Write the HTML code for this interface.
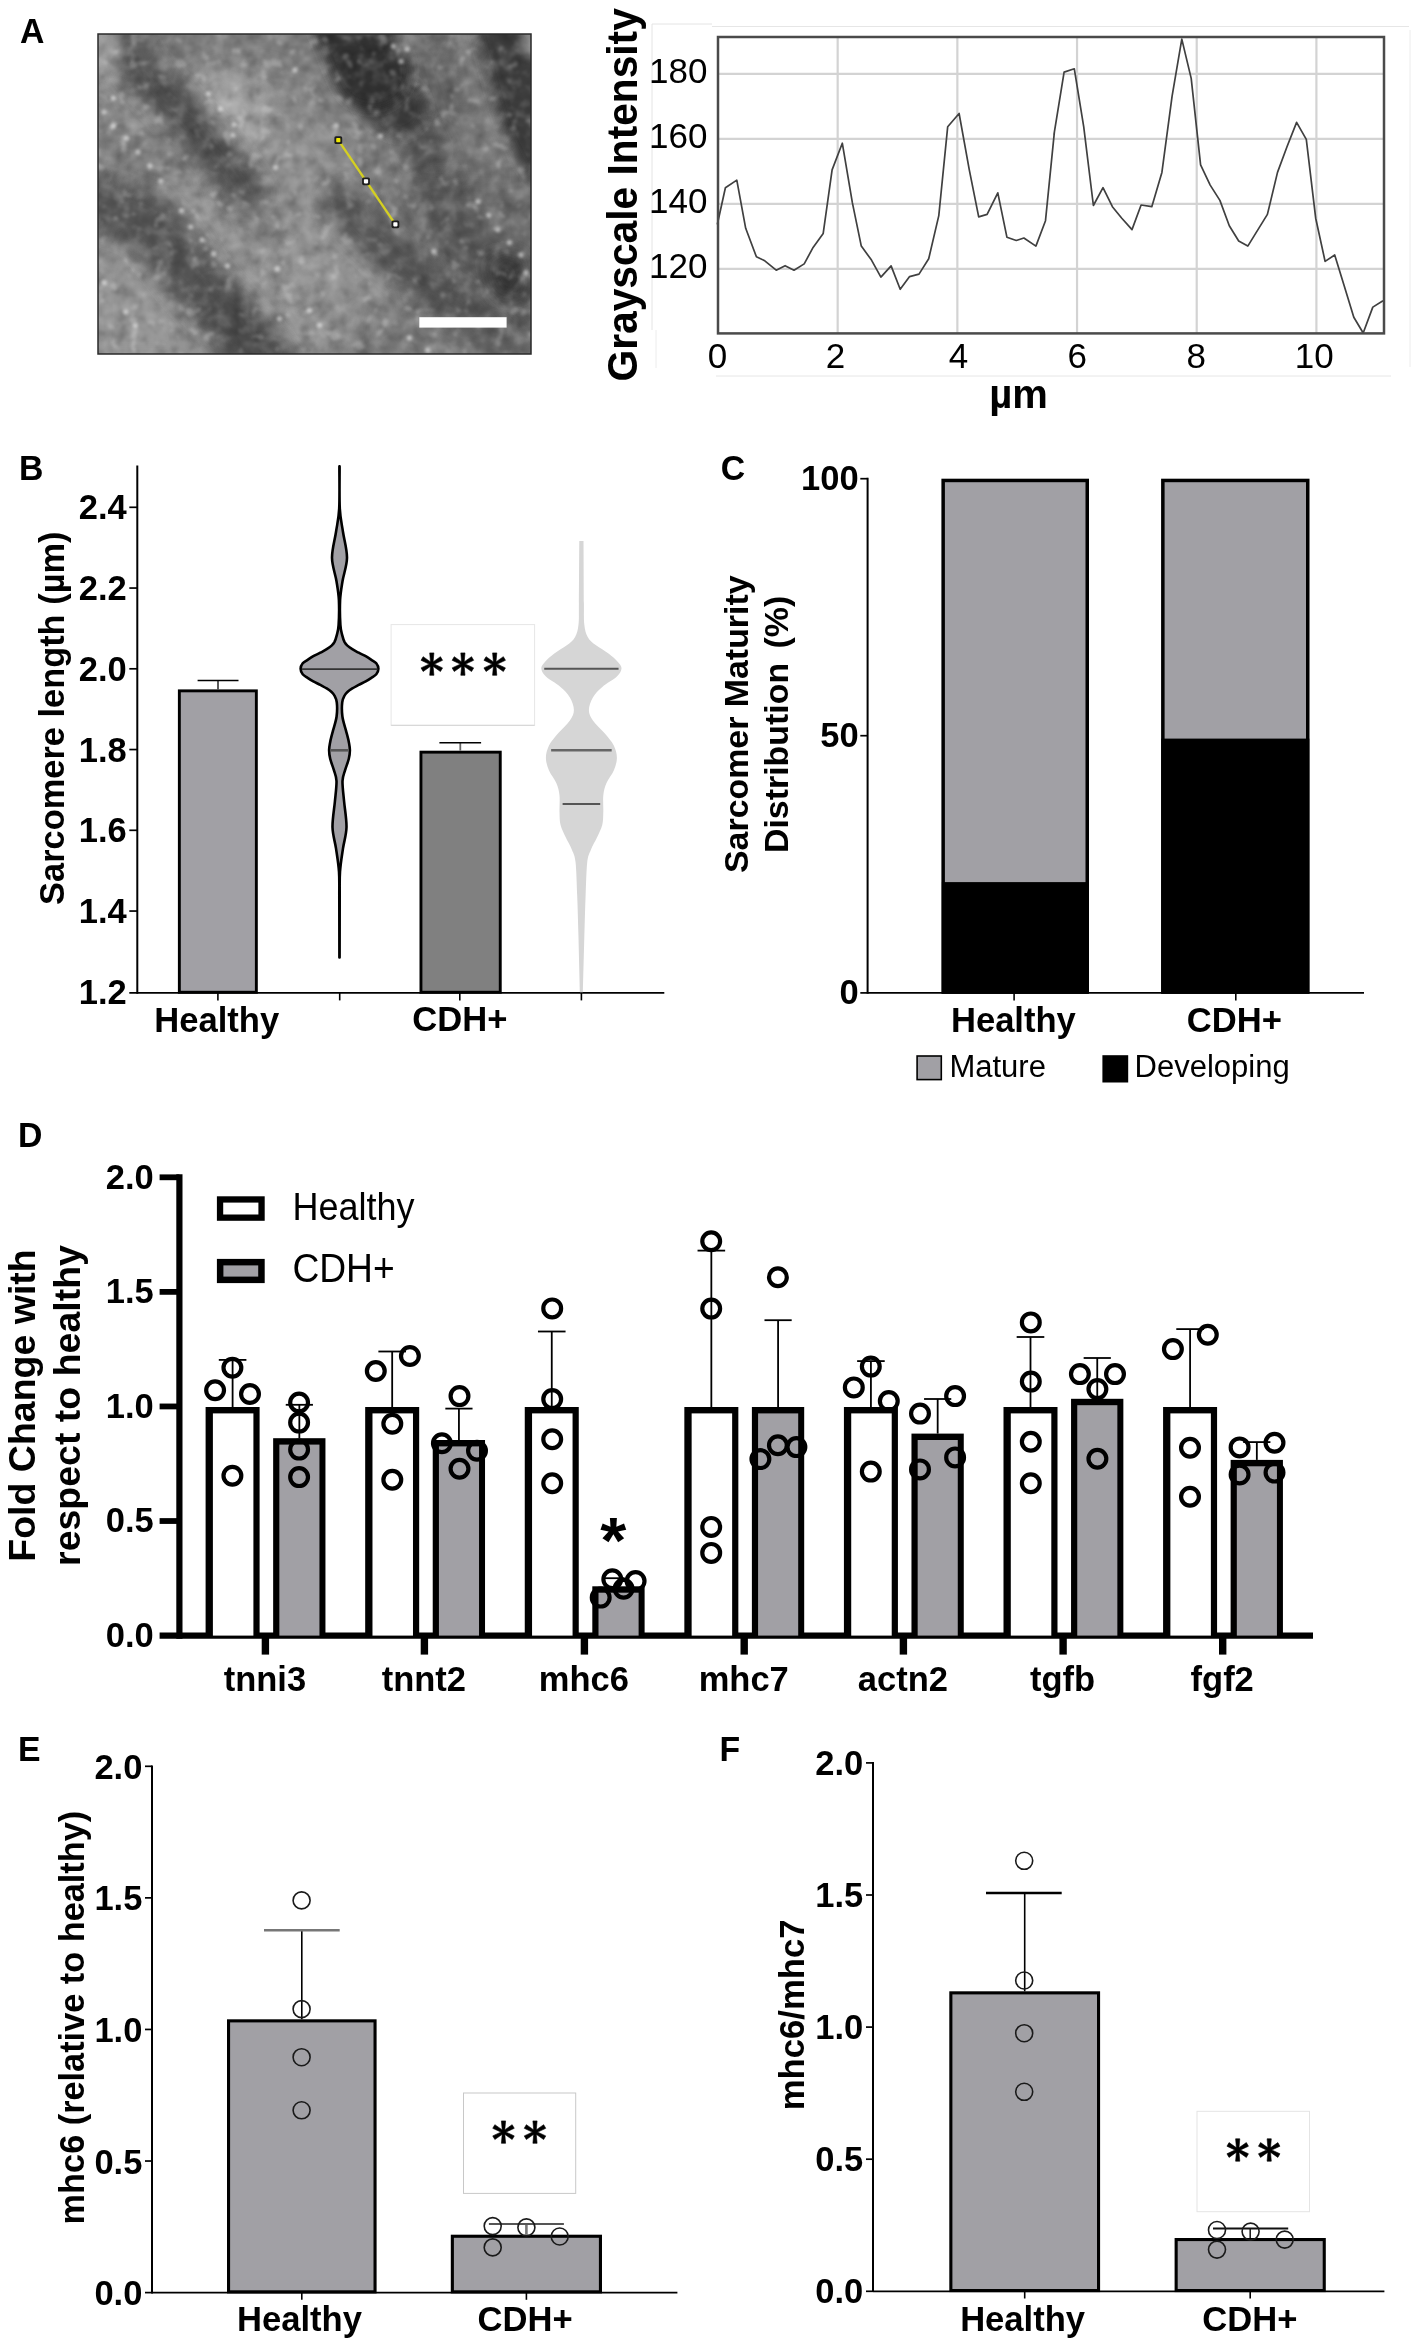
<!DOCTYPE html>
<html><head><meta charset="utf-8"><title>Figure</title>
<style>
html,body{margin:0;padding:0;background:#fff;}
body{width:1417px;height:2347px;overflow:hidden;font-family:"Liberation Sans",sans-serif;}
svg{display:block;will-change:transform;}
svg text{font-family:"Liberation Sans",sans-serif;}
</style></head><body>
<svg width="1417" height="2347" viewBox="0 0 1417 2347">
<rect x="0" y="0" width="1417" height="2347" fill="#fff"/>
<text x="20.0" y="42.8" font-size="33.8" font-weight="bold" text-anchor="start" fill="#000" transform="translate(20.0 42.8) scale(1 1.04) translate(-20.0 -42.8)" >A</text>
<text x="18.9" y="479.6" font-size="33.8" font-weight="bold" text-anchor="start" fill="#000" transform="translate(18.9 479.6) scale(1 1.04) translate(-18.9 -479.6)" >B</text>
<text x="720.7" y="480.3" font-size="33.8" font-weight="bold" text-anchor="start" fill="#000" transform="translate(720.7 480.3) scale(1 1.04) translate(-720.7 -480.3)" >C</text>
<text x="18.1" y="1146.9" font-size="33.8" font-weight="bold" text-anchor="start" fill="#000" transform="translate(18.1 1146.9) scale(1 1.04) translate(-18.1 -1146.9)" >D</text>
<text x="18.1" y="1761.4" font-size="33.8" font-weight="bold" text-anchor="start" fill="#000" transform="translate(18.1 1761.4) scale(1 1.04) translate(-18.1 -1761.4)" >E</text>
<text x="719.5" y="1761.4" font-size="33.8" font-weight="bold" text-anchor="start" fill="#000" transform="translate(719.5 1761.4) scale(1 1.04) translate(-719.5 -1761.4)" >F</text>
<defs>
<clipPath id="imgclip"><rect x="98" y="34" width="433" height="320"/></clipPath>
<filter id="bl1" filterUnits="userSpaceOnUse" x="18" y="-46" width="593" height="480"><feGaussianBlur stdDeviation="1.6"/></filter>
<filter id="bl9" filterUnits="userSpaceOnUse" x="18" y="-46" width="593" height="480"><feGaussianBlur stdDeviation="9"/></filter>
<filter id="bl6" filterUnits="userSpaceOnUse" x="18" y="-46" width="593" height="480"><feGaussianBlur stdDeviation="6"/></filter>
<filter id="bl14" filterUnits="userSpaceOnUse" x="18" y="-46" width="593" height="480"><feGaussianBlur stdDeviation="14"/></filter>
<filter id="nzW" filterUnits="userSpaceOnUse" x="18" y="-46" width="593" height="480" color-interpolation-filters="sRGB">
<feTurbulence type="fractalNoise" baseFrequency="0.07" numOctaves="3" seed="11" result="t"/>
<feColorMatrix in="t" type="matrix" values="0 0 0 0 1  0 0 0 0 1  0 0 0 0 1  2.6 0 0 0 -1.25" result="g"/>
<feGaussianBlur in="g" stdDeviation="1.2"/>
</filter>
<filter id="nzB" filterUnits="userSpaceOnUse" x="18" y="-46" width="593" height="480" color-interpolation-filters="sRGB">
<feTurbulence type="fractalNoise" baseFrequency="0.07" numOctaves="3" seed="11" result="t"/>
<feColorMatrix in="t" type="matrix" values="0 0 0 0 0  0 0 0 0 0  0 0 0 0 0  -2.6 0 0 0 1.2" result="g"/>
<feGaussianBlur in="g" stdDeviation="1.2"/>
</filter>
<filter id="nzS" filterUnits="userSpaceOnUse" x="18" y="-46" width="593" height="480" color-interpolation-filters="sRGB">
<feTurbulence type="fractalNoise" baseFrequency="0.085" numOctaves="2" seed="5" result="t2"/>
<feColorMatrix in="t2" type="matrix" values="0 0 0 0 1  0 0 0 0 1  0 0 0 0 1  0 10 0 0 -6.3" result="sp"/>
<feGaussianBlur in="sp" stdDeviation="1.7"/>
</filter>
</defs>
<g clip-path="url(#imgclip)"><g>
<rect x="18" y="-46" width="593" height="480" fill="#7b7b7b" stroke="none" stroke-width="0" />
<path d="M104.1,21.8 L125.5,95.1 L168.3,165.4 L226.3,241.8 L293.6,327.4 L311.9,370.1" fill="none" stroke="#969696" stroke-width="45.8" stroke-linecap="round" stroke-linejoin="round" filter="url(#bl14)" opacity="0.75"/>
<polygon points="198.8,79.8 269.1,70.7 342.5,134.8 360.8,217.3 330.2,296.8 269.1,278.5 229.4,205.1" fill="#929292" filter="url(#bl14)" opacity="0.75"/>
<polygon points="214.1,89.0 263.0,89.0 269.1,144.0 226.3,150.1" fill="#9c9c9c" filter="url(#bl9)" opacity="0.55"/>
<polygon points="281.3,241.8 373.0,229.6 391.4,309.0 311.9,339.6" fill="#9a9a9a" filter="url(#bl14)" opacity="0.6"/>
<path d="M421.9,46.2 L443.3,113.4 L470.8,177.6" fill="none" stroke="#585858" stroke-width="45.8" stroke-linecap="round" stroke-linejoin="round" filter="url(#bl14)" opacity="0.75"/>
<polygon points="85.8,247.9 153.0,266.2 226.3,370.1 85.8,370.1" fill="#9a9a9a" filter="url(#bl14)" opacity="0.8"/>
<path d="M473.9,192.9 L504.4,244.8 L531.9,278.5" fill="none" stroke="#8e8e8e" stroke-width="18.3" stroke-linecap="round" stroke-linejoin="round" filter="url(#bl9)" opacity="0.5"/>
<polygon points="192.0,66.0 250.0,72.0 262.0,140.0 205.0,132.0" fill="#acacac" filter="url(#bl9)" opacity="0.6"/>
<path d="M128.0,48.0 L138.0,68.0 L156.0,87.0 L188.0,121.0 L220.0,156.0 L246.0,192.0" fill="none" stroke="#484848" stroke-width="38" stroke-linecap="round" stroke-linejoin="round" filter="url(#bl9)" opacity="0.9"/>
<path d="M246.0,192.0 L270.0,226.0" fill="none" stroke="#6c6c6c" stroke-width="24" stroke-linecap="round" stroke-linejoin="round" filter="url(#bl9)" opacity="0.5"/>
<path d="M146.0,16.0 L140.0,66.0" fill="none" stroke="#606060" stroke-width="34" stroke-linecap="round" stroke-linejoin="round" filter="url(#bl9)" opacity="0.6"/>
<polygon points="88.0,24.0 124.0,24.0 119.0,74.0 88.0,82.0" fill="#a0a0a0" filter="url(#bl6)" opacity="0.75"/>
<path d="M60.0,194.0 L98.0,203.0 L145.5,218.0 L169.0,248.0 L190.5,275.0 L222.0,312.0 L257.0,354.0 L275.0,376.0" fill="none" stroke="#525252" stroke-width="52" stroke-linecap="round" stroke-linejoin="round" filter="url(#bl9)" opacity="0.95"/>
<polygon points="122.0,136.0 200.0,136.0 204.0,180.0 125.0,178.0" fill="#5a5a5a" filter="url(#bl9)" opacity="0.3"/>
<path d="M222.0,305.0 L245.0,335.0 L262.0,362.0" fill="none" stroke="#444444" stroke-width="44" stroke-linecap="round" stroke-linejoin="round" filter="url(#bl9)" opacity="0.55"/>
<path d="M425.0,150.0 L436.0,190.0 L470.0,248.0 L505.0,279.0 L535.0,315.0" fill="none" stroke="#525252" stroke-width="40" stroke-linecap="round" stroke-linejoin="round" filter="url(#bl9)" opacity="0.8"/>
<path d="M398.0,108.0 L412.0,125.0 L425.0,150.0" fill="none" stroke="#585858" stroke-width="36" stroke-linecap="round" stroke-linejoin="round" filter="url(#bl6)" opacity="0.85"/>
<path d="M372.0,70.0 L383.6,95.0 L398.0,108.0" fill="none" stroke="#3a3a3a" stroke-width="56" stroke-linecap="round" stroke-linejoin="round" filter="url(#bl6)" opacity="0.95"/>
<path d="M338.0,-10.0 L357.0,34.0 L372.0,70.0" fill="none" stroke="#323232" stroke-width="78" stroke-linecap="round" stroke-linejoin="round" filter="url(#bl6)" opacity="0.97"/>
<polygon points="470.0,10.0 570.0,10.0 570.0,200.0 531.0,181.0 519.0,162.0 503.0,129.0 491.0,87.0" fill="#3a3a3a" filter="url(#bl6)" opacity="0.97"/>
<polygon points="390.0,30.0 428.0,30.0 426.0,58.0 396.0,60.0" fill="#909090" filter="url(#bl6)" opacity="0.5"/>
<polygon points="448.0,118.0 488.0,122.0 492.0,172.0 456.0,168.0" fill="#909090" filter="url(#bl9)" opacity="0.45"/>
<polygon points="521.0,20.0 545.0,20.0 545.0,58.0 527.0,56.0" fill="#a8a8a8" filter="url(#bl6)" opacity="0.9"/>
<polygon points="392.0,188.0 545.0,188.0 545.0,325.0 430.0,325.0" fill="#505050" filter="url(#bl14)" opacity="0.42"/>
<polygon points="486.0,258.0 520.0,252.0 528.0,294.0 496.0,298.0" fill="#343434" filter="url(#bl9)" opacity="0.95"/>
<path d="M340.0,200.0 L353.0,217.0 L391.0,255.0 L429.0,285.5 L452.0,300.7 L483.0,331.0 L506.0,356.0" fill="none" stroke="#4c4c4c" stroke-width="36" stroke-linecap="round" stroke-linejoin="round" filter="url(#bl9)" opacity="0.8"/>
<path d="M403.6,327.4 L538.0,357.9" fill="none" stroke="#707070" stroke-width="33.6" stroke-linecap="round" stroke-linejoin="round" filter="url(#bl14)" opacity="0.6"/>
</g>
<rect x="98" y="34" width="433" height="320" filter="url(#nzW)" opacity="0.2"/>
<rect x="98" y="34" width="433" height="320" filter="url(#nzB)" opacity="0.22"/>
<rect x="98" y="34" width="433" height="320" filter="url(#nzS)" opacity="0.22"/>
<g fill="#fff" opacity="0.5" filter="url(#bl1)"><circle cx="478.1" cy="201.6" r="2.7"/><circle cx="488.8" cy="215.3" r="2.7"/><circle cx="497.9" cy="229.8" r="2.7"/><circle cx="509.4" cy="242.8" r="2.7"/><circle cx="520.8" cy="255" r="2.7"/><circle cx="526.1" cy="272.5" r="2.7"/><circle cx="409.5" cy="338" r="2.7"/><circle cx="427.8" cy="350.2" r="2.7"/><circle cx="319.6" cy="325.1" r="2.7"/><circle cx="433.9" cy="251.2" r="2.7"/><circle cx="393.5" cy="46.2" r="2.7"/><circle cx="407.2" cy="49.2" r="2.7"/><circle cx="401.1" cy="61.4" r="2.7"/><circle cx="380.5" cy="136.1" r="2.7"/><circle cx="336.3" cy="125.5" r="2.7"/><circle cx="181.5" cy="210.8" r="2.7"/><circle cx="190.6" cy="226.9" r="2.7"/><circle cx="202.1" cy="239.9" r="2.7"/><circle cx="213.6" cy="253.7" r="2.7"/><circle cx="227.4" cy="266" r="2.7"/><circle cx="277.2" cy="269" r="2.7"/><circle cx="279.5" cy="318.8" r="2.7"/><circle cx="309.3" cy="310.4" r="2.7"/><circle cx="125.6" cy="311.9" r="2.7"/><circle cx="135.5" cy="325.7" r="2.7"/><circle cx="104.1" cy="282.8" r="2.7"/><circle cx="113.3" cy="98.3" r="2.7"/><circle cx="104.1" cy="112.1" r="2.7"/><circle cx="113.3" cy="125.9" r="2.7"/><circle cx="126.3" cy="138.1" r="2.7"/><circle cx="137.8" cy="151.9" r="2.7"/><circle cx="150.1" cy="165.7" r="2.7"/><circle cx="160.8" cy="181" r="2.7"/><circle cx="208.3" cy="93.7" r="2.7"/><circle cx="220.5" cy="109" r="2.7"/><circle cx="234.3" cy="124.4" r="2.7"/><circle cx="232.8" cy="135.1" r="2.7"/><circle cx="275.6" cy="167.2" r="2.7"/><circle cx="294.8" cy="70" r="2.7"/></g>
</g>
<rect x="98" y="34" width="433" height="320" fill="none" stroke="#2a2a2a" stroke-width="1.5" />
<rect x="419.3" y="317.2" width="87.3" height="10.4" fill="#fff" stroke="none" stroke-width="0" />
<line x1="338.3" y1="140.1" x2="395.4" y2="224.3" stroke="#d4cf22" stroke-width="2.4" />
<rect x="334.40000000000003" y="136.2" width="7.8" height="7.8" fill="#1e1e1e" stroke="none" stroke-width="0" rx="1.6"/>
<rect x="336.2" y="138.0" width="4.2" height="4.2" fill="#f0e800" stroke="none" stroke-width="0" rx="0.8"/>
<rect x="362.1" y="177.4" width="7.8" height="7.8" fill="#1e1e1e" stroke="none" stroke-width="0" rx="1.6"/>
<rect x="363.9" y="179.20000000000002" width="4.2" height="4.2" fill="#ffffff" stroke="none" stroke-width="0" rx="0.8"/>
<rect x="391.5" y="220.4" width="7.8" height="7.8" fill="#1e1e1e" stroke="none" stroke-width="0" rx="1.6"/>
<rect x="393.29999999999995" y="222.20000000000002" width="4.2" height="4.2" fill="#ffffff" stroke="none" stroke-width="0" rx="0.8"/>
<line x1="652" y1="24" x2="652" y2="330" stroke="#e4e4e4" stroke-width="1" />
<line x1="652" y1="24" x2="712" y2="24" stroke="#e4e4e4" stroke-width="1" />
<line x1="712" y1="26.5" x2="1409" y2="26.5" stroke="#e6e6e6" stroke-width="1" />
<line x1="656" y1="330" x2="656" y2="368" stroke="#ececec" stroke-width="1" />
<line x1="716" y1="376" x2="1391" y2="376" stroke="#e6e6e6" stroke-width="1" />
<line x1="1410" y1="30" x2="1410" y2="367" stroke="#ececec" stroke-width="1" />
<line x1="837.6800000000001" y1="37" x2="837.6800000000001" y2="333.4" stroke="#d3d3d3" stroke-width="2.2" />
<line x1="957.36" y1="37" x2="957.36" y2="333.4" stroke="#d3d3d3" stroke-width="2.2" />
<line x1="1077.04" y1="37" x2="1077.04" y2="333.4" stroke="#d3d3d3" stroke-width="2.2" />
<line x1="1196.72" y1="37" x2="1196.72" y2="333.4" stroke="#d3d3d3" stroke-width="2.2" />
<line x1="1316.4" y1="37" x2="1316.4" y2="333.4" stroke="#d3d3d3" stroke-width="2.2" />
<line x1="718.0" y1="268.8" x2="1384" y2="268.8" stroke="#d3d3d3" stroke-width="2.2" />
<line x1="718.0" y1="203.83333333333334" x2="1384" y2="203.83333333333334" stroke="#d3d3d3" stroke-width="2.2" />
<line x1="718.0" y1="138.86666666666667" x2="1384" y2="138.86666666666667" stroke="#d3d3d3" stroke-width="2.2" />
<line x1="718.0" y1="73.9" x2="1384" y2="73.9" stroke="#d3d3d3" stroke-width="2.2" />
<polyline fill="none" stroke="#404040" stroke-width="1.7" stroke-linejoin="round" points="717.3,224.5 725.4,187.7 736.8,180.1 745.7,228.3 756.4,256.8 764.8,260.8 776.2,270.2 785.1,265.7 794.0,270.2 804.2,263.9 813.1,247.4 823.2,233.4 832.1,169.9 842.3,143.2 852.4,202.9 861.3,246.1 871.5,260.1 880.9,277.1 891.1,265.9 900.2,289.3 909.6,276.6 919.0,274.1 928.7,258.8 938.8,215.6 947.7,126.7 959.1,113.5 969.3,169.9 978.7,216.9 987.1,214.4 997.8,192.8 1006.9,237.2 1016.3,240.5 1023.9,238.0 1035.9,246.1 1045.5,220.7 1054.4,131.8 1054.0,134.3 1064.1,72.1 1074.3,68.8 1083.7,126.7 1093.4,205.5 1103.0,187.7 1112.4,206.7 1121.8,218.2 1132.0,229.6 1141.1,205.0 1151.8,206.7 1161.9,172.4 1172.1,96.2 1181.8,39.1 1191.2,78.4 1200.6,164.8 1210.2,185.1 1219.9,200.4 1229.3,225.8 1238.7,241.0 1247.8,246.1 1257.2,230.9 1267.4,214.4 1277.5,172.4 1286.9,147.0 1296.6,122.4 1306.3,139.4 1315.7,218.2 1325.1,261.4 1334.7,255.0 1344.1,285.5 1353.8,317.2 1363.2,333.0 1372.8,307.1 1383.0,300.7"/>
<rect x="718.0" y="37" width="666.0" height="296.4" fill="none" stroke="#4a4a4a" stroke-width="2.5" />
<text x="707.5" y="278.3" font-size="35" text-anchor="end" fill="#000" transform="translate(707.5 278.3) scale(1 1.0) translate(-707.5 -278.3)" >120</text>
<text x="707.5" y="213.33333333333334" font-size="35" text-anchor="end" fill="#000" transform="translate(707.5 213.33333333333334) scale(1 1.0) translate(-707.5 -213.33333333333334)" >140</text>
<text x="707.5" y="148.36666666666667" font-size="35" text-anchor="end" fill="#000" transform="translate(707.5 148.36666666666667) scale(1 1.0) translate(-707.5 -148.36666666666667)" >160</text>
<text x="707.5" y="83.4" font-size="35" text-anchor="end" fill="#000" transform="translate(707.5 83.4) scale(1 1.0) translate(-707.5 -83.4)" >180</text>
<text x="717.5" y="367.9" font-size="35" text-anchor="middle" fill="#000" transform="translate(717.5 367.9) scale(1 1.0) translate(-717.5 -367.9)" >0</text>
<text x="835.6" y="367.9" font-size="35" text-anchor="middle" fill="#000" transform="translate(835.6 367.9) scale(1 1.0) translate(-835.6 -367.9)" >2</text>
<text x="958.5" y="367.9" font-size="35" text-anchor="middle" fill="#000" transform="translate(958.5 367.9) scale(1 1.0) translate(-958.5 -367.9)" >4</text>
<text x="1077.3" y="367.9" font-size="35" text-anchor="middle" fill="#000" transform="translate(1077.3 367.9) scale(1 1.0) translate(-1077.3 -367.9)" >6</text>
<text x="1196.3" y="367.9" font-size="35" text-anchor="middle" fill="#000" transform="translate(1196.3 367.9) scale(1 1.0) translate(-1196.3 -367.9)" >8</text>
<text x="1314.2" y="367.9" font-size="35" text-anchor="middle" fill="#000" transform="translate(1314.2 367.9) scale(1 1.0) translate(-1314.2 -367.9)" >10</text>
<text x="1018.5" y="407.6" font-size="40" font-weight="bold" text-anchor="middle" fill="#000" transform="translate(1018.5 407.6) scale(1 1.0) translate(-1018.5 -407.6)" >µm</text>
<text x="636.7" y="194.8" font-size="40.7" font-weight="bold" text-anchor="middle" fill="#000" transform="rotate(-90 636.7 194.8) translate(636.7 194.8) scale(1 1.04) translate(-636.7 -194.8)" >Grayscale Intensity</text>
<line x1="137.3" y1="465.4" x2="137.3" y2="993.6999999999999" stroke="#000" stroke-width="2" />
<line x1="129.3" y1="992.9" x2="664.3" y2="992.9" stroke="#000" stroke-width="1.7" />
<line x1="129.3" y1="911.05" x2="137.3" y2="911.05" stroke="#000" stroke-width="1.7" />
<line x1="129.3" y1="830.3" x2="137.3" y2="830.3" stroke="#000" stroke-width="1.7" />
<line x1="129.3" y1="749.55" x2="137.3" y2="749.55" stroke="#000" stroke-width="1.7" />
<line x1="129.3" y1="668.8" x2="137.3" y2="668.8" stroke="#000" stroke-width="1.7" />
<line x1="129.3" y1="588.05" x2="137.3" y2="588.05" stroke="#000" stroke-width="1.7" />
<line x1="129.3" y1="507.3" x2="137.3" y2="507.3" stroke="#000" stroke-width="1.7" />
<text x="126.8" y="1003.8" font-size="34.5" font-weight="bold" text-anchor="end" fill="#000" transform="translate(126.8 1003.8) scale(1 1.04) translate(-126.8 -1003.8)" >1.2</text>
<text x="126.8" y="923.05" font-size="34.5" font-weight="bold" text-anchor="end" fill="#000" transform="translate(126.8 923.05) scale(1 1.04) translate(-126.8 -923.05)" >1.4</text>
<text x="126.8" y="842.3" font-size="34.5" font-weight="bold" text-anchor="end" fill="#000" transform="translate(126.8 842.3) scale(1 1.04) translate(-126.8 -842.3)" >1.6</text>
<text x="126.8" y="761.55" font-size="34.5" font-weight="bold" text-anchor="end" fill="#000" transform="translate(126.8 761.55) scale(1 1.04) translate(-126.8 -761.55)" >1.8</text>
<text x="126.8" y="680.8" font-size="34.5" font-weight="bold" text-anchor="end" fill="#000" transform="translate(126.8 680.8) scale(1 1.04) translate(-126.8 -680.8)" >2.0</text>
<text x="126.8" y="600.05" font-size="34.5" font-weight="bold" text-anchor="end" fill="#000" transform="translate(126.8 600.05) scale(1 1.04) translate(-126.8 -600.05)" >2.2</text>
<text x="126.8" y="519.3" font-size="34.5" font-weight="bold" text-anchor="end" fill="#000" transform="translate(126.8 519.3) scale(1 1.04) translate(-126.8 -519.3)" >2.4</text>
<text x="63.6" y="718.2" font-size="34.4" font-weight="bold" text-anchor="middle" fill="#000" transform="rotate(-90 63.6 718.2) translate(63.6 718.2) scale(1 1.0) translate(-63.6 -718.2)" >Sarcomere length (µm)</text>
<line x1="217.9" y1="992.9" x2="217.9" y2="1000.4" stroke="#000" stroke-width="1.6" />
<line x1="339.7" y1="992.9" x2="339.7" y2="1000.4" stroke="#000" stroke-width="1.6" />
<line x1="459.8" y1="992.9" x2="459.8" y2="1000.4" stroke="#000" stroke-width="1.6" />
<line x1="581.4" y1="992.9" x2="581.4" y2="1000.4" stroke="#000" stroke-width="1.6" />
<text x="216.7" y="1031.7" font-size="34.6" font-weight="bold" text-anchor="middle" fill="#000" transform="translate(216.7 1031.7) scale(1 1.0) translate(-216.7 -1031.7)" >Healthy</text>
<text x="459.8" y="1031.5" font-size="34.6" font-weight="bold" text-anchor="middle" fill="#000" transform="translate(459.8 1031.5) scale(1 1.04) translate(-459.8 -1031.5)" >CDH+</text>
<rect x="179.35" y="690.85" width="77.0" height="301.4" fill="#a1a0a5" stroke="#000" stroke-width="2.9" />
<line x1="218" y1="689.4" x2="218" y2="680.5" stroke="#333" stroke-width="1.6" />
<line x1="197.6" y1="680.5" x2="238.5" y2="680.5" stroke="#000" stroke-width="1.6" />
<rect x="420.95" y="752.1500000000001" width="79.29999999999998" height="240.09999999999988" fill="#808080" stroke="#000" stroke-width="2.9" />
<line x1="460.3" y1="750.7" x2="460.3" y2="742.7" stroke="#666" stroke-width="1.8" />
<line x1="439.4" y1="742.7" x2="481.1" y2="742.7" stroke="#000" stroke-width="1.6" />
<path d="M339.6,466.4 C339.7,473.4 339.2,497.7 339.8,508.6 C340.4,519.5 341.8,523.8 343.0,532.0 C344.2,540.2 347.1,549.6 347.0,557.8 C346.9,566.0 343.6,574.2 342.5,581.2 C341.4,588.2 340.5,592.7 340.1,600.0 C339.8,607.3 340.0,619.1 340.4,625.0 C340.8,630.9 341.5,632.2 342.2,635.1 C342.9,637.9 343.7,640.3 344.6,642.1 C345.5,643.8 346.1,644.4 347.4,645.6 C348.7,646.8 350.4,648.0 352.3,649.2 C354.2,650.4 356.5,651.5 358.7,652.7 C360.9,653.9 363.6,655.0 365.7,656.2 C367.8,657.4 369.6,658.6 371.4,659.8 C373.2,661.0 375.1,661.8 376.3,663.3 C377.5,664.8 378.4,667.0 378.4,668.8 C378.4,670.6 377.5,672.8 376.3,674.3 C375.1,675.8 373.2,676.6 371.4,677.8 C369.6,679.0 367.8,680.2 365.7,681.4 C363.6,682.6 360.9,683.7 358.7,684.9 C356.5,686.1 354.2,687.2 352.3,688.4 C350.4,689.6 348.7,690.8 347.4,692.0 C346.1,693.2 345.5,693.8 344.6,695.5 C343.7,697.2 342.6,699.0 342.2,702.5 C341.8,706.0 341.8,711.8 342.4,716.5 C343.0,721.2 344.9,726.4 346.0,730.6 C347.1,734.8 348.2,738.6 348.8,741.9 C349.4,745.2 349.9,747.5 349.9,750.3 C349.9,753.1 349.6,755.5 348.8,758.8 C348.0,762.1 346.2,766.4 345.1,770.1 C344.1,773.8 342.7,775.8 342.5,781.0 C342.3,786.2 343.4,793.8 344.1,801.5 C344.8,809.2 346.7,819.5 346.5,827.3 C346.3,835.1 344.1,841.0 343.0,848.4 C341.9,855.8 340.6,863.2 340.0,871.8 C339.4,880.4 339.8,885.7 339.7,900.0 C339.6,914.3 339.7,947.8 339.6,957.4 L339.4,957.4  C339.3,947.8 339.4,914.3 339.3,900.0 C339.2,885.7 339.6,880.4 339.0,871.8 C338.4,863.2 337.1,855.8 336.0,848.4 C334.9,841.0 332.7,835.1 332.5,827.3 C332.3,819.5 334.2,809.2 334.9,801.5 C335.6,793.8 336.7,786.2 336.5,781.0 C336.3,775.8 334.9,773.8 333.9,770.1 C332.8,766.4 331.0,762.1 330.2,758.8 C329.4,755.5 329.1,753.1 329.1,750.3 C329.1,747.5 329.6,745.2 330.2,741.9 C330.8,738.6 331.9,734.8 333.0,730.6 C334.1,726.4 336.0,721.2 336.6,716.5 C337.2,711.8 337.2,706.0 336.8,702.5 C336.4,699.0 335.3,697.2 334.4,695.5 C333.5,693.8 332.9,693.2 331.6,692.0 C330.3,690.8 328.6,689.6 326.7,688.4 C324.8,687.2 322.5,686.1 320.3,684.9 C318.1,683.7 315.4,682.6 313.3,681.4 C311.2,680.2 309.4,679.0 307.6,677.8 C305.8,676.6 303.9,675.8 302.7,674.3 C301.5,672.8 300.6,670.6 300.6,668.8 C300.6,667.0 301.5,664.8 302.7,663.3 C303.9,661.8 305.8,661.0 307.6,659.8 C309.4,658.6 311.2,657.4 313.3,656.2 C315.4,655.0 318.1,653.9 320.3,652.7 C322.5,651.5 324.8,650.4 326.7,649.2 C328.6,648.0 330.3,646.8 331.6,645.6 C332.9,644.4 333.5,643.8 334.4,642.1 C335.3,640.3 336.1,637.9 336.8,635.1 C337.5,632.2 338.2,630.9 338.6,625.0 C339.0,619.1 339.2,607.3 338.9,600.0 C338.5,592.7 337.6,588.2 336.5,581.2 C335.4,574.2 332.1,566.0 332.0,557.8 C331.9,549.6 334.8,540.2 336.0,532.0 C337.2,523.8 338.6,519.5 339.2,508.6 C339.8,497.7 339.3,473.4 339.4,466.4 Z" fill="#a1a0a5" stroke="#000" stroke-width="2.6" stroke-linejoin="round"/>
<line x1="301.79927567106944" y1="669.1095014912654" x2="377.60072432893054" y2="669.1095014912654" stroke="#333" stroke-width="1.6" />
<line x1="330.3" y1="750.3" x2="348.1" y2="750.3" stroke="#555" stroke-width="2.6" />
<path d="M583.5,540.9 C583.6,551.3 583.8,589.6 583.9,603.5 C584.0,617.4 583.7,618.8 584.3,624.4 C584.9,630.0 585.7,633.4 587.7,636.9 C589.6,640.4 592.5,642.5 596.0,645.3 C599.5,648.0 604.9,650.8 608.5,653.6 C612.2,656.4 615.8,659.5 617.9,662.0 C620.1,664.5 621.7,666.2 621.5,668.6 C621.3,671.1 620.1,673.5 616.9,676.6 C613.7,679.6 606.3,683.5 602.3,687.0 C598.3,690.5 595.1,693.6 592.9,697.5 C590.7,701.3 588.9,706.2 588.9,710.0 C588.9,713.8 590.3,716.6 592.9,720.4 C595.5,724.3 600.9,728.8 604.4,733.0 C607.8,737.1 611.7,741.3 613.8,745.5 C615.8,749.7 616.9,753.8 616.9,758.0 C616.9,762.2 615.5,766.4 613.8,770.5 C612.0,774.7 608.2,778.9 606.5,783.1 C604.7,787.2 603.8,790.7 603.3,795.6 C602.8,800.5 603.5,807.4 603.3,812.3 C603.1,817.2 603.3,820.6 602.3,824.8 C601.2,829.0 599.0,833.2 597.1,837.3 C595.1,841.5 592.4,845.7 590.8,849.9 C589.2,854.0 588.1,854.7 587.2,862.4 C586.4,870.0 586.1,883.3 585.6,895.8 C585.1,908.3 584.8,921.5 584.3,937.6 C583.9,953.6 583.1,983.1 582.9,992.3 L579.9,992.3  C579.7,983.1 578.9,953.6 578.5,937.6 C578.0,921.5 577.7,908.3 577.2,895.8 C576.7,883.3 576.4,870.0 575.6,862.4 C574.7,854.7 573.6,854.0 572.0,849.9 C570.4,845.7 567.7,841.5 565.7,837.3 C563.8,833.2 561.6,829.0 560.5,824.8 C559.5,820.6 559.7,817.2 559.5,812.3 C559.3,807.4 560.0,800.5 559.5,795.6 C559.0,790.7 558.1,787.2 556.3,783.1 C554.6,778.9 550.8,774.7 549.0,770.5 C547.3,766.4 545.9,762.2 545.9,758.0 C545.9,753.8 547.0,749.7 549.0,745.5 C551.1,741.3 555.0,737.1 558.4,733.0 C561.9,728.8 567.3,724.3 569.9,720.4 C572.5,716.6 573.9,713.8 573.9,710.0 C573.9,706.2 572.1,701.3 569.9,697.5 C567.7,693.6 564.5,690.5 560.5,687.0 C556.5,683.5 549.1,679.6 545.9,676.6 C542.7,673.5 541.5,671.1 541.3,668.6 C541.1,666.2 542.7,664.5 544.9,662.0 C547.0,659.5 550.6,656.4 554.3,653.6 C557.9,650.8 563.3,648.0 566.8,645.3 C570.3,642.5 573.2,640.4 575.1,636.9 C577.1,633.4 577.9,630.0 578.5,624.4 C579.1,618.8 578.8,617.4 578.9,603.5 C579.0,589.6 579.2,551.3 579.3,540.9 Z" fill="#d6d6d6" stroke="none" stroke-width="0" stroke-linejoin="round"/>
<line x1="544.2376651043886" y1="668.6493395824457" x2="618.5623348956113" y2="668.6493395824457" stroke="#555" stroke-width="2" />
<line x1="551.1273114614401" y1="750.2812100553898" x2="611.6726885385599" y2="750.2812100553898" stroke="#666" stroke-width="2.4" />
<line x1="562.6100553898593" y1="803.936940775458" x2="600.1899446101406" y2="803.936940775458" stroke="#555" stroke-width="2" />
<rect x="391.1" y="624.6" width="143.5" height="100.7" fill="#fff" stroke="#e6e6e6" stroke-width="1" />
<line x1="391.1" y1="725.3" x2="534.6" y2="725.3" stroke="#d4d4d4" stroke-width="1" />
<path d="M430.70,664.10 L429.70,675.30 L433.90,675.30 L432.90,664.10ZM431.25,665.05 L440.45,671.52 L442.55,667.88 L432.35,663.15ZM431.25,663.15 L421.05,667.88 L423.15,671.52 L432.35,665.05ZM432.90,664.10 L433.90,652.90 L429.70,652.90 L430.70,664.10ZM432.35,663.15 L423.15,656.68 L421.05,660.32 L431.25,665.05ZM432.35,665.05 L442.55,660.32 L440.45,656.68 L431.25,663.15Z" fill="#000" stroke="#000" stroke-width="0.6" stroke-linejoin="round"/>
<path d="M461.80,664.10 L460.80,675.30 L465.00,675.30 L464.00,664.10ZM462.35,665.05 L471.55,671.52 L473.65,667.88 L463.45,663.15ZM462.35,663.15 L452.15,667.88 L454.25,671.52 L463.45,665.05ZM464.00,664.10 L465.00,652.90 L460.80,652.90 L461.80,664.10ZM463.45,663.15 L454.25,656.68 L452.15,660.32 L462.35,665.05ZM463.45,665.05 L473.65,660.32 L471.55,656.68 L462.35,663.15Z" fill="#000" stroke="#000" stroke-width="0.6" stroke-linejoin="round"/>
<path d="M493.60,664.10 L492.60,675.30 L496.80,675.30 L495.80,664.10ZM494.15,665.05 L503.35,671.52 L505.45,667.88 L495.25,663.15ZM494.15,663.15 L483.95,667.88 L486.05,671.52 L495.25,665.05ZM495.80,664.10 L496.80,652.90 L492.60,652.90 L493.60,664.10ZM495.25,663.15 L486.05,656.68 L483.95,660.32 L494.15,665.05ZM495.25,665.05 L505.45,660.32 L503.35,656.68 L494.15,663.15Z" fill="#000" stroke="#000" stroke-width="0.6" stroke-linejoin="round"/>
<line x1="867.6" y1="477.8" x2="867.6" y2="993.6999999999999" stroke="#000" stroke-width="2" />
<line x1="867.6" y1="992.9" x2="1364" y2="992.9" stroke="#000" stroke-width="1.7" />
<line x1="860.3000000000001" y1="478.7" x2="867.6" y2="478.7" stroke="#000" stroke-width="1.7" />
<line x1="860.3000000000001" y1="735.7" x2="867.6" y2="735.7" stroke="#000" stroke-width="1.7" />
<line x1="860.3000000000001" y1="992.9" x2="867.6" y2="992.9" stroke="#000" stroke-width="1.7" />
<text x="858.6" y="490.0" font-size="34.5" font-weight="bold" text-anchor="end" fill="#000" transform="translate(858.6 490.0) scale(1 1.04) translate(-858.6 -490.0)" >100</text>
<text x="858.6" y="747.3000000000001" font-size="34.5" font-weight="bold" text-anchor="end" fill="#000" transform="translate(858.6 747.3000000000001) scale(1 1.04) translate(-858.6 -747.3000000000001)" >50</text>
<text x="858.6" y="1004.5" font-size="34.5" font-weight="bold" text-anchor="end" fill="#000" transform="translate(858.6 1004.5) scale(1 1.04) translate(-858.6 -1004.5)" >0</text>
<line x1="1014.1" y1="992.9" x2="1014.1" y2="1000.4" stroke="#000" stroke-width="1.6" />
<line x1="1235.8" y1="992.9" x2="1235.8" y2="1000.4" stroke="#000" stroke-width="1.6" />
<rect x="943.15" y="480.45" width="144.10000000000002" height="511.5" fill="#a1a0a5" stroke="#000" stroke-width="3.5" />
<rect x="941.9" y="882.1" width="146.5" height="111.59999999999991" fill="#000" stroke="none" stroke-width="0" />
<rect x="1162.85" y="480.45" width="144.9000000000001" height="511.5" fill="#a1a0a5" stroke="#000" stroke-width="3.5" />
<rect x="1161.3" y="738.6" width="148" height="255.0999999999999" fill="#000" stroke="none" stroke-width="0" />
<text x="1013.4" y="1031.9" font-size="34.6" font-weight="bold" text-anchor="middle" fill="#000" transform="translate(1013.4 1031.9) scale(1 1.0) translate(-1013.4 -1031.9)" >Healthy</text>
<text x="1234.4" y="1031.7" font-size="34.6" font-weight="bold" text-anchor="middle" fill="#000" transform="translate(1234.4 1031.7) scale(1 1.04) translate(-1234.4 -1031.7)" >CDH+</text>
<rect x="917.0999999999999" y="1056.0" width="24.200000000000067" height="23.600000000000044" fill="#a1a0a5" stroke="#000" stroke-width="1.6" />
<text x="949.4" y="1076.8" font-size="31" text-anchor="start" fill="#000" transform="translate(949.4 1076.8) scale(1 1.0) translate(-949.4 -1076.8)" >Mature</text>
<rect x="1102.4" y="1055.2" width="25.8" height="27.3" fill="#000" stroke="none" stroke-width="0" />
<text x="1134.6" y="1076.8" font-size="31" text-anchor="start" fill="#000" transform="translate(1134.6 1076.8) scale(1 1.0) translate(-1134.6 -1076.8)" >Developing</text>
<text x="747.7" y="724.2" font-size="33.9" font-weight="bold" text-anchor="middle" fill="#000" transform="rotate(-90 747.7 724.2) translate(747.7 724.2) scale(1 1.0) translate(-747.7 -724.2)" >Sarcomer Maturity</text>
<text x="787.8" y="724.4" font-size="33.9" font-weight="bold" text-anchor="middle" fill="#000" transform="rotate(-90 787.8 724.4) translate(787.8 724.4) scale(1 1.0) translate(-787.8 -724.4)" >Distribution <tspan dx="5">(%)</tspan></text>
<line x1="179.4" y1="1174.2" x2="179.4" y2="1638.6999999999998" stroke="#000" stroke-width="6.2" />
<line x1="159.6" y1="1635.6" x2="1313" y2="1635.6" stroke="#000" stroke-width="6.2" />
<line x1="159.6" y1="1521.0249999999999" x2="179.4" y2="1521.0249999999999" stroke="#000" stroke-width="5.8" />
<line x1="159.6" y1="1406.4499999999998" x2="179.4" y2="1406.4499999999998" stroke="#000" stroke-width="5.8" />
<line x1="159.6" y1="1291.875" x2="179.4" y2="1291.875" stroke="#000" stroke-width="5.8" />
<line x1="159.6" y1="1177.3" x2="179.4" y2="1177.3" stroke="#000" stroke-width="5.8" />
<text x="153.8" y="1646.8999999999999" font-size="34.5" font-weight="bold" text-anchor="end" fill="#000" transform="translate(153.8 1646.8999999999999) scale(1 1.04) translate(-153.8 -1646.8999999999999)" >0.0</text>
<text x="153.8" y="1532.3249999999998" font-size="34.5" font-weight="bold" text-anchor="end" fill="#000" transform="translate(153.8 1532.3249999999998) scale(1 1.04) translate(-153.8 -1532.3249999999998)" >0.5</text>
<text x="153.8" y="1417.7499999999998" font-size="34.5" font-weight="bold" text-anchor="end" fill="#000" transform="translate(153.8 1417.7499999999998) scale(1 1.04) translate(-153.8 -1417.7499999999998)" >1.0</text>
<text x="153.8" y="1303.175" font-size="34.5" font-weight="bold" text-anchor="end" fill="#000" transform="translate(153.8 1303.175) scale(1 1.04) translate(-153.8 -1303.175)" >1.5</text>
<text x="153.8" y="1188.6" font-size="34.5" font-weight="bold" text-anchor="end" fill="#000" transform="translate(153.8 1188.6) scale(1 1.04) translate(-153.8 -1188.6)" >2.0</text>
<text x="35" y="1405.5" font-size="37.5" font-weight="bold" text-anchor="middle" fill="#000" transform="rotate(-90 35 1405.5) translate(35 1405.5) scale(1 1.0) translate(-35 -1405.5)" >Fold Change with</text>
<text x="79.6" y="1405.5" font-size="37.5" font-weight="bold" text-anchor="middle" fill="#000" transform="rotate(-90 79.6 1405.5) translate(79.6 1405.5) scale(1 1.0) translate(-79.6 -1405.5)" >respect to healthy</text>
<rect x="220.05" y="1199.45" width="41.499999999999986" height="18.2" fill="#fff" stroke="#000" stroke-width="6.3" />
<rect x="220.15" y="1262.15" width="41.29999999999998" height="17.699999999999818" fill="#a1a0a5" stroke="#000" stroke-width="6.5" />
<text x="292.6" y="1220.3" font-size="36" text-anchor="start" fill="#000" transform="translate(292.6 1220.3) scale(1 1.09) translate(-292.6 -1220.3)" >Healthy</text>
<text x="292.4" y="1281.8" font-size="37.2" text-anchor="start" fill="#000" transform="translate(292.4 1281.8) scale(1 1.07) translate(-292.4 -1281.8)" >CDH+</text>
<rect x="205.6" y="1407.0" width="54.00000000000003" height="228.5999999999999" fill="#000" stroke="none" stroke-width="0" />
<rect x="212.9" y="1413.4" width="40.50000000000003" height="222.1999999999999" fill="#fff" stroke="none" stroke-width="0" />
<line x1="232.6" y1="1407.0" x2="232.6" y2="1359.9" stroke="#000" stroke-width="1.8" />
<line x1="218.79999999999998" y1="1359.9" x2="246.4" y2="1359.9" stroke="#000" stroke-width="1.8" />
<rect x="273.15" y="1438.2" width="52.30000000000001" height="197.39999999999986" fill="#000" stroke="none" stroke-width="0" />
<rect x="279.34999999999997" y="1444.6000000000001" width="40.10000000000001" height="190.99999999999986" fill="#a1a0a5" stroke="none" stroke-width="0" />
<line x1="299.34999999999997" y1="1438.2" x2="299.34999999999997" y2="1404.8" stroke="#000" stroke-width="1.8" />
<line x1="285.74999999999994" y1="1404.8" x2="312.95" y2="1404.8" stroke="#000" stroke-width="1.8" />
<line x1="265.4" y1="1635.6" x2="265.4" y2="1654.6" stroke="#000" stroke-width="7.4" />
<text x="264.9" y="1690.6" font-size="34.5" font-weight="bold" text-anchor="middle" fill="#000" transform="translate(264.9 1690.6) scale(1 1.0) translate(-264.9 -1690.6)" >tnni3</text>
<rect x="365.18" y="1407.0" width="54.0" height="228.5999999999999" fill="#000" stroke="none" stroke-width="0" />
<rect x="372.48" y="1413.4" width="40.5" height="222.1999999999999" fill="#fff" stroke="none" stroke-width="0" />
<line x1="392.18" y1="1407.0" x2="392.18" y2="1351.5" stroke="#000" stroke-width="1.8" />
<line x1="378.38" y1="1351.5" x2="405.98" y2="1351.5" stroke="#000" stroke-width="1.8" />
<rect x="432.73" y="1440.0" width="52.30000000000001" height="195.5999999999999" fill="#000" stroke="none" stroke-width="0" />
<rect x="438.93" y="1446.4" width="40.10000000000001" height="189.1999999999999" fill="#a1a0a5" stroke="none" stroke-width="0" />
<line x1="458.93" y1="1440.0" x2="458.93" y2="1408.6" stroke="#000" stroke-width="1.8" />
<line x1="445.33" y1="1408.6" x2="472.53000000000003" y2="1408.6" stroke="#000" stroke-width="1.8" />
<line x1="424.4" y1="1635.6" x2="424.4" y2="1654.6" stroke="#000" stroke-width="7.4" />
<text x="423.9" y="1690.6" font-size="34.5" font-weight="bold" text-anchor="middle" fill="#000" transform="translate(423.9 1690.6) scale(1 1.0) translate(-423.9 -1690.6)" >tnnt2</text>
<rect x="524.76" y="1407.0" width="54.0" height="228.5999999999999" fill="#000" stroke="none" stroke-width="0" />
<rect x="532.06" y="1413.4" width="40.5" height="222.1999999999999" fill="#fff" stroke="none" stroke-width="0" />
<line x1="551.76" y1="1407.0" x2="551.76" y2="1331.5" stroke="#000" stroke-width="1.8" />
<line x1="537.96" y1="1331.5" x2="565.56" y2="1331.5" stroke="#000" stroke-width="1.8" />
<rect x="592.31" y="1586.3" width="52.299999999999955" height="49.299999999999955" fill="#000" stroke="none" stroke-width="0" />
<rect x="598.51" y="1592.7" width="40.09999999999995" height="42.899999999999956" fill="#a1a0a5" stroke="none" stroke-width="0" />
<line x1="618.51" y1="1586.3" x2="618.51" y2="1578.2" stroke="#000" stroke-width="1.8" />
<line x1="604.91" y1="1578.2" x2="624.51" y2="1578.2" stroke="#000" stroke-width="1.8" />
<line x1="584.4" y1="1635.6" x2="584.4" y2="1654.6" stroke="#000" stroke-width="7.4" />
<text x="583.9" y="1690.6" font-size="34.5" font-weight="bold" text-anchor="middle" fill="#000" transform="translate(583.9 1690.6) scale(1 1.0) translate(-583.9 -1690.6)" >mhc6</text>
<rect x="684.34" y="1407.0" width="54.0" height="228.5999999999999" fill="#000" stroke="none" stroke-width="0" />
<rect x="691.64" y="1413.4" width="40.5" height="222.1999999999999" fill="#fff" stroke="none" stroke-width="0" />
<line x1="711.34" y1="1407.0" x2="711.34" y2="1250.6" stroke="#000" stroke-width="1.8" />
<line x1="697.5400000000001" y1="1250.6" x2="725.14" y2="1250.6" stroke="#000" stroke-width="1.8" />
<rect x="751.89" y="1407" width="52.299999999999955" height="228.5999999999999" fill="#000" stroke="none" stroke-width="0" />
<rect x="758.09" y="1413.4" width="40.09999999999995" height="222.1999999999999" fill="#a1a0a5" stroke="none" stroke-width="0" />
<line x1="778.09" y1="1407" x2="778.09" y2="1320.2" stroke="#000" stroke-width="1.8" />
<line x1="764.49" y1="1320.2" x2="791.69" y2="1320.2" stroke="#000" stroke-width="1.8" />
<line x1="744.2" y1="1635.6" x2="744.2" y2="1654.6" stroke="#000" stroke-width="7.4" />
<text x="743.7" y="1690.6" font-size="34.5" font-weight="bold" text-anchor="middle" fill="#000" transform="translate(743.7 1690.6) scale(1 1.0) translate(-743.7 -1690.6)" >mhc7</text>
<rect x="843.9200000000001" y="1407.0" width="54.0" height="228.5999999999999" fill="#000" stroke="none" stroke-width="0" />
<rect x="851.22" y="1413.4" width="40.5" height="222.1999999999999" fill="#fff" stroke="none" stroke-width="0" />
<line x1="870.9200000000001" y1="1407.0" x2="870.9200000000001" y2="1361.1" stroke="#000" stroke-width="1.8" />
<line x1="857.1200000000001" y1="1361.1" x2="884.72" y2="1361.1" stroke="#000" stroke-width="1.8" />
<rect x="911.47" y="1433.6" width="52.299999999999955" height="202.0" fill="#000" stroke="none" stroke-width="0" />
<rect x="917.6700000000001" y="1440.0" width="40.09999999999995" height="195.6" fill="#a1a0a5" stroke="none" stroke-width="0" />
<line x1="937.6700000000001" y1="1433.6" x2="937.6700000000001" y2="1399" stroke="#000" stroke-width="1.8" />
<line x1="924.07" y1="1399" x2="951.2700000000001" y2="1399" stroke="#000" stroke-width="1.8" />
<line x1="903.4" y1="1635.6" x2="903.4" y2="1654.6" stroke="#000" stroke-width="7.4" />
<text x="902.9" y="1690.6" font-size="34.5" font-weight="bold" text-anchor="middle" fill="#000" transform="translate(902.9 1690.6) scale(1 1.0) translate(-902.9 -1690.6)" >actn2</text>
<rect x="1003.5000000000001" y="1407.0" width="53.999999999999886" height="228.5999999999999" fill="#000" stroke="none" stroke-width="0" />
<rect x="1010.8000000000001" y="1413.4" width="40.499999999999886" height="222.1999999999999" fill="#fff" stroke="none" stroke-width="0" />
<line x1="1030.5" y1="1407.0" x2="1030.5" y2="1337" stroke="#000" stroke-width="1.8" />
<line x1="1016.7" y1="1337" x2="1044.3" y2="1337" stroke="#000" stroke-width="1.8" />
<rect x="1071.0500000000002" y="1398.8" width="52.299999999999955" height="236.79999999999995" fill="#000" stroke="none" stroke-width="0" />
<rect x="1077.2500000000002" y="1405.2" width="40.09999999999995" height="230.39999999999995" fill="#a1a0a5" stroke="none" stroke-width="0" />
<line x1="1097.2500000000002" y1="1398.8" x2="1097.2500000000002" y2="1358" stroke="#000" stroke-width="1.8" />
<line x1="1083.6500000000003" y1="1358" x2="1110.8500000000001" y2="1358" stroke="#000" stroke-width="1.8" />
<line x1="1063.1" y1="1635.6" x2="1063.1" y2="1654.6" stroke="#000" stroke-width="7.4" />
<text x="1062.6" y="1690.6" font-size="34.5" font-weight="bold" text-anchor="middle" fill="#000" transform="translate(1062.6 1690.6) scale(1 1.0) translate(-1062.6 -1690.6)" >tgfb</text>
<rect x="1163.08" y="1407.0" width="54.0" height="228.5999999999999" fill="#000" stroke="none" stroke-width="0" />
<rect x="1170.3799999999999" y="1413.4" width="40.5" height="222.1999999999999" fill="#fff" stroke="none" stroke-width="0" />
<line x1="1190.08" y1="1407.0" x2="1190.08" y2="1329.1" stroke="#000" stroke-width="1.8" />
<line x1="1176.28" y1="1329.1" x2="1203.8799999999999" y2="1329.1" stroke="#000" stroke-width="1.8" />
<rect x="1230.6299999999999" y="1459.9" width="52.299999999999955" height="175.69999999999982" fill="#000" stroke="none" stroke-width="0" />
<rect x="1236.83" y="1466.3000000000002" width="40.09999999999995" height="169.2999999999998" fill="#a1a0a5" stroke="none" stroke-width="0" />
<line x1="1256.83" y1="1459.9" x2="1256.83" y2="1442.1" stroke="#000" stroke-width="1.8" />
<line x1="1243.23" y1="1442.1" x2="1270.4299999999998" y2="1442.1" stroke="#000" stroke-width="1.8" />
<line x1="1222.7" y1="1635.6" x2="1222.7" y2="1654.6" stroke="#000" stroke-width="7.4" />
<text x="1222.2" y="1690.6" font-size="34.5" font-weight="bold" text-anchor="middle" fill="#000" transform="translate(1222.2 1690.6) scale(1 1.0) translate(-1222.2 -1690.6)" >fgf2</text>
<circle cx="215.1" cy="1390.3" r="8.9" fill="none" stroke="#000" stroke-width="4.2"/>
<circle cx="232.4" cy="1367.7" r="8.9" fill="none" stroke="#000" stroke-width="4.2"/>
<circle cx="250" cy="1394" r="8.9" fill="none" stroke="#000" stroke-width="4.2"/>
<circle cx="232.4" cy="1475.7" r="8.9" fill="none" stroke="#000" stroke-width="4.2"/>
<circle cx="299.1" cy="1402.5" r="8.9" fill="none" stroke="#000" stroke-width="4.2"/>
<circle cx="299.1" cy="1422.6" r="8.9" fill="none" stroke="#000" stroke-width="4.2"/>
<circle cx="299.1" cy="1449.6" r="8.9" fill="none" stroke="#000" stroke-width="4.2"/>
<circle cx="299.1" cy="1477.1" r="8.9" fill="none" stroke="#000" stroke-width="4.2"/>
<circle cx="375.8" cy="1371" r="8.9" fill="none" stroke="#000" stroke-width="4.2"/>
<circle cx="409.9" cy="1356" r="8.9" fill="none" stroke="#000" stroke-width="4.2"/>
<circle cx="392.3" cy="1423.7" r="8.9" fill="none" stroke="#000" stroke-width="4.2"/>
<circle cx="392.3" cy="1479.8" r="8.9" fill="none" stroke="#000" stroke-width="4.2"/>
<circle cx="459.5" cy="1396.1" r="8.9" fill="none" stroke="#000" stroke-width="4.2"/>
<circle cx="441.9" cy="1443.2" r="8.9" fill="none" stroke="#000" stroke-width="4.2"/>
<circle cx="477" cy="1450.7" r="8.9" fill="none" stroke="#000" stroke-width="4.2"/>
<circle cx="459.5" cy="1468.8" r="8.9" fill="none" stroke="#000" stroke-width="4.2"/>
<circle cx="552.2" cy="1308.4" r="8.9" fill="none" stroke="#000" stroke-width="4.2"/>
<circle cx="552.2" cy="1399.1" r="8.9" fill="none" stroke="#000" stroke-width="4.2"/>
<circle cx="552.2" cy="1439.2" r="8.9" fill="none" stroke="#000" stroke-width="4.2"/>
<circle cx="552.2" cy="1483.3" r="8.9" fill="none" stroke="#000" stroke-width="4.2"/>
<circle cx="600.7" cy="1597.6" r="8.9" fill="none" stroke="#000" stroke-width="4.2"/>
<circle cx="612.3" cy="1579.3" r="8.9" fill="none" stroke="#000" stroke-width="4.2"/>
<circle cx="623.6" cy="1588.8" r="8.9" fill="none" stroke="#000" stroke-width="4.2"/>
<circle cx="635.6" cy="1581" r="8.9" fill="none" stroke="#000" stroke-width="4.2"/>
<circle cx="711.2" cy="1241.2" r="8.9" fill="none" stroke="#000" stroke-width="4.2"/>
<circle cx="711.2" cy="1308.6" r="8.9" fill="none" stroke="#000" stroke-width="4.2"/>
<circle cx="711.2" cy="1526.9" r="8.9" fill="none" stroke="#000" stroke-width="4.2"/>
<circle cx="711.2" cy="1552.9" r="8.9" fill="none" stroke="#000" stroke-width="4.2"/>
<circle cx="777.9" cy="1277.3" r="8.9" fill="none" stroke="#000" stroke-width="4.2"/>
<circle cx="760.4" cy="1459.1" r="8.9" fill="none" stroke="#000" stroke-width="4.2"/>
<circle cx="777.9" cy="1445.3" r="8.9" fill="none" stroke="#000" stroke-width="4.2"/>
<circle cx="796.4" cy="1447.1" r="8.9" fill="none" stroke="#000" stroke-width="4.2"/>
<circle cx="853.8" cy="1387.4" r="8.9" fill="none" stroke="#000" stroke-width="4.2"/>
<circle cx="870.8" cy="1366.6" r="8.9" fill="none" stroke="#000" stroke-width="4.2"/>
<circle cx="888.8" cy="1401.1" r="8.9" fill="none" stroke="#000" stroke-width="4.2"/>
<circle cx="870.8" cy="1471.6" r="8.9" fill="none" stroke="#000" stroke-width="4.2"/>
<circle cx="920" cy="1413.6" r="8.9" fill="none" stroke="#000" stroke-width="4.2"/>
<circle cx="955.1" cy="1396.1" r="8.9" fill="none" stroke="#000" stroke-width="4.2"/>
<circle cx="920" cy="1469.4" r="8.9" fill="none" stroke="#000" stroke-width="4.2"/>
<circle cx="955.1" cy="1457.4" r="8.9" fill="none" stroke="#000" stroke-width="4.2"/>
<circle cx="1030.8" cy="1322.4" r="8.9" fill="none" stroke="#000" stroke-width="4.2"/>
<circle cx="1030.8" cy="1381.6" r="8.9" fill="none" stroke="#000" stroke-width="4.2"/>
<circle cx="1030.8" cy="1441.7" r="8.9" fill="none" stroke="#000" stroke-width="4.2"/>
<circle cx="1030.8" cy="1483.3" r="8.9" fill="none" stroke="#000" stroke-width="4.2"/>
<circle cx="1079.9" cy="1374.1" r="8.9" fill="none" stroke="#000" stroke-width="4.2"/>
<circle cx="1115" cy="1374.1" r="8.9" fill="none" stroke="#000" stroke-width="4.2"/>
<circle cx="1097.4" cy="1389.1" r="8.9" fill="none" stroke="#000" stroke-width="4.2"/>
<circle cx="1097.4" cy="1458.7" r="8.9" fill="none" stroke="#000" stroke-width="4.2"/>
<circle cx="1172.9" cy="1349.1" r="8.9" fill="none" stroke="#000" stroke-width="4.2"/>
<circle cx="1207.8" cy="1334.8" r="8.9" fill="none" stroke="#000" stroke-width="4.2"/>
<circle cx="1190" cy="1447.8" r="8.9" fill="none" stroke="#000" stroke-width="4.2"/>
<circle cx="1190" cy="1496.7" r="8.9" fill="none" stroke="#000" stroke-width="4.2"/>
<circle cx="1239.6" cy="1447.4" r="8.9" fill="none" stroke="#000" stroke-width="4.2"/>
<circle cx="1274.5" cy="1442.7" r="8.9" fill="none" stroke="#000" stroke-width="4.2"/>
<circle cx="1239.6" cy="1474.5" r="8.9" fill="none" stroke="#000" stroke-width="4.2"/>
<circle cx="1274.5" cy="1472.6" r="8.9" fill="none" stroke="#000" stroke-width="4.2"/>
<text x="613.2" y="1562.6" font-size="67" font-weight="bold" text-anchor="middle" fill="#000" transform="translate(613.2 1562.6) scale(1 0.97) translate(-613.2 -1562.6)" >*</text>
<line x1="152.0" y1="1765.5" x2="152.0" y2="2293.4" stroke="#000" stroke-width="2" />
<line x1="152.0" y1="2292.6" x2="677.4" y2="2292.6" stroke="#000" stroke-width="1.7" />
<line x1="145.0" y1="2292.6" x2="152.0" y2="2292.6" stroke="#000" stroke-width="1.7" />
<text x="142.4" y="2305.2" font-size="34.5" font-weight="bold" text-anchor="end" fill="#000" transform="translate(142.4 2305.2) scale(1 1.04) translate(-142.4 -2305.2)" >0.0</text>
<line x1="145.0" y1="2161.025" x2="152.0" y2="2161.025" stroke="#000" stroke-width="1.7" />
<text x="142.4" y="2173.625" font-size="34.5" font-weight="bold" text-anchor="end" fill="#000" transform="translate(142.4 2173.625) scale(1 1.04) translate(-142.4 -2173.625)" >0.5</text>
<line x1="145.0" y1="2029.4499999999998" x2="152.0" y2="2029.4499999999998" stroke="#000" stroke-width="1.7" />
<text x="142.4" y="2042.0499999999997" font-size="34.5" font-weight="bold" text-anchor="end" fill="#000" transform="translate(142.4 2042.0499999999997) scale(1 1.04) translate(-142.4 -2042.0499999999997)" >1.0</text>
<line x1="145.0" y1="1897.875" x2="152.0" y2="1897.875" stroke="#000" stroke-width="1.7" />
<text x="142.4" y="1910.475" font-size="34.5" font-weight="bold" text-anchor="end" fill="#000" transform="translate(142.4 1910.475) scale(1 1.04) translate(-142.4 -1910.475)" >1.5</text>
<line x1="145.0" y1="1766.3" x2="152.0" y2="1766.3" stroke="#000" stroke-width="1.7" />
<text x="142.4" y="1778.8999999999999" font-size="34.5" font-weight="bold" text-anchor="end" fill="#000" transform="translate(142.4 1778.8999999999999) scale(1 1.04) translate(-142.4 -1778.8999999999999)" >2.0</text>
<rect x="228.55" y="2020.85" width="146.50000000000003" height="271.0000000000001" fill="#a1a0a5" stroke="#000" stroke-width="3.1" />
<rect x="452.35" y="2236.25" width="148.1" height="55.60000000000027" fill="#a1a0a5" stroke="#000" stroke-width="3.1" />
<line x1="301.8" y1="2292.6" x2="301.8" y2="2299.7999999999997" stroke="#000" stroke-width="1.6" />
<line x1="526.4" y1="2292.6" x2="526.4" y2="2299.7999999999997" stroke="#000" stroke-width="1.6" />
<line x1="301.8" y1="2019.3" x2="301.8" y2="1930.2" stroke="#000" stroke-width="1.6" />
<line x1="264" y1="1930.2" x2="339.7" y2="1930.2" stroke="#777" stroke-width="2.5" />
<line x1="526.4" y1="2234.7" x2="526.4" y2="2223.9" stroke="#777" stroke-width="2.6" />
<line x1="488.9" y1="2223.9" x2="563.9" y2="2223.9" stroke="#555" stroke-width="2" />
<circle cx="301.6" cy="1900.4" r="8.5" fill="none" stroke="#1a1a1a" stroke-width="1.6"/>
<circle cx="301.6" cy="2009.1" r="8.5" fill="none" stroke="#1a1a1a" stroke-width="1.6"/>
<circle cx="301.6" cy="2057.2" r="8.5" fill="none" stroke="#1a1a1a" stroke-width="1.6"/>
<circle cx="301.6" cy="2110.3" r="8.5" fill="none" stroke="#1a1a1a" stroke-width="1.6"/>
<circle cx="492.7" cy="2226.1" r="8.5" fill="none" stroke="#1a1a1a" stroke-width="1.6"/>
<circle cx="526.4" cy="2227.4" r="8.5" fill="none" stroke="#1a1a1a" stroke-width="1.6"/>
<circle cx="559.7" cy="2236.5" r="8.5" fill="none" stroke="#1a1a1a" stroke-width="1.6"/>
<circle cx="492.7" cy="2247.4" r="8.5" fill="none" stroke="#1a1a1a" stroke-width="1.6"/>
<rect x="463.5" y="2093" width="112.20000000000005" height="100.40000000000009" fill="#fff" stroke="#c8c8c8" stroke-width="1" />
<path d="M502.40,2132.10 L501.40,2143.30 L505.60,2143.30 L504.60,2132.10ZM502.95,2133.05 L512.15,2139.52 L514.25,2135.88 L504.05,2131.15ZM502.95,2131.15 L492.75,2135.88 L494.85,2139.52 L504.05,2133.05ZM504.60,2132.10 L505.60,2120.90 L501.40,2120.90 L502.40,2132.10ZM504.05,2131.15 L494.85,2124.68 L492.75,2128.32 L502.95,2133.05ZM504.05,2133.05 L514.25,2128.32 L512.15,2124.68 L502.95,2131.15Z" fill="#000" stroke="#000" stroke-width="0.6" stroke-linejoin="round"/>
<path d="M533.90,2132.10 L532.90,2143.30 L537.10,2143.30 L536.10,2132.10ZM534.45,2133.05 L543.65,2139.52 L545.75,2135.88 L535.55,2131.15ZM534.45,2131.15 L524.25,2135.88 L526.35,2139.52 L535.55,2133.05ZM536.10,2132.10 L537.10,2120.90 L532.90,2120.90 L533.90,2132.10ZM535.55,2131.15 L526.35,2124.68 L524.25,2128.32 L534.45,2133.05ZM535.55,2133.05 L545.75,2128.32 L543.65,2124.68 L534.45,2131.15Z" fill="#000" stroke="#000" stroke-width="0.6" stroke-linejoin="round"/>
<text x="299.5" y="2331.4" font-size="34.6" font-weight="bold" text-anchor="middle" fill="#000" transform="translate(299.5 2331.4) scale(1 1.0) translate(-299.5 -2331.4)" >Healthy</text>
<text x="525.1" y="2331.3" font-size="34.6" font-weight="bold" text-anchor="middle" fill="#000" transform="translate(525.1 2331.3) scale(1 1.04) translate(-525.1 -2331.3)" >CDH+</text>
<text x="83.8" y="2017.6" font-size="34.3" font-weight="bold" text-anchor="middle" fill="#000" transform="rotate(-90 83.8 2017.6) translate(83.8 2017.6) scale(1 1.0) translate(-83.8 -2017.6)" >mhc6 (relative to healthy)</text>
<line x1="873.0" y1="1762.1000000000001" x2="873.0" y2="2292.1000000000004" stroke="#000" stroke-width="2" />
<line x1="873.0" y1="2291.3" x2="1384.4" y2="2291.3" stroke="#000" stroke-width="1.7" />
<line x1="866.0" y1="2291.3" x2="873.0" y2="2291.3" stroke="#000" stroke-width="1.7" />
<text x="863.2" y="2303.2000000000003" font-size="34.5" font-weight="bold" text-anchor="end" fill="#000" transform="translate(863.2 2303.2000000000003) scale(1 1.04) translate(-863.2 -2303.2000000000003)" >0.0</text>
<line x1="866.0" y1="2159.2000000000003" x2="873.0" y2="2159.2000000000003" stroke="#000" stroke-width="1.7" />
<text x="863.2" y="2171.1000000000004" font-size="34.5" font-weight="bold" text-anchor="end" fill="#000" transform="translate(863.2 2171.1000000000004) scale(1 1.04) translate(-863.2 -2171.1000000000004)" >0.5</text>
<line x1="866.0" y1="2027.1000000000001" x2="873.0" y2="2027.1000000000001" stroke="#000" stroke-width="1.7" />
<text x="863.2" y="2039.0000000000002" font-size="34.5" font-weight="bold" text-anchor="end" fill="#000" transform="translate(863.2 2039.0000000000002) scale(1 1.04) translate(-863.2 -2039.0000000000002)" >1.0</text>
<line x1="866.0" y1="1895.0" x2="873.0" y2="1895.0" stroke="#000" stroke-width="1.7" />
<text x="863.2" y="1906.9" font-size="34.5" font-weight="bold" text-anchor="end" fill="#000" transform="translate(863.2 1906.9) scale(1 1.04) translate(-863.2 -1906.9)" >1.5</text>
<line x1="866.0" y1="1762.9" x2="873.0" y2="1762.9" stroke="#000" stroke-width="1.7" />
<text x="863.2" y="1774.8000000000002" font-size="34.5" font-weight="bold" text-anchor="end" fill="#000" transform="translate(863.2 1774.8000000000002) scale(1 1.04) translate(-863.2 -1774.8000000000002)" >2.0</text>
<rect x="950.8499999999999" y="1992.85" width="147.69999999999996" height="297.7000000000004" fill="#a1a0a5" stroke="#000" stroke-width="3.1" />
<rect x="1176.1499999999999" y="2239.55" width="148.10000000000005" height="51.00000000000036" fill="#a1a0a5" stroke="#000" stroke-width="3.1" />
<line x1="1024.6999999999998" y1="2291.3" x2="1024.6999999999998" y2="2298.5" stroke="#000" stroke-width="1.6" />
<line x1="1250.1999999999998" y1="2291.3" x2="1250.1999999999998" y2="2298.5" stroke="#000" stroke-width="1.6" />
<line x1="1024.6999999999998" y1="1991.3" x2="1024.6999999999998" y2="1892.9" stroke="#000" stroke-width="1.6" />
<line x1="986" y1="1892.9" x2="1061.7" y2="1892.9" stroke="#000" stroke-width="2.5" />
<line x1="1250.1999999999998" y1="2238.0" x2="1250.1999999999998" y2="2228.6" stroke="#222" stroke-width="1.6" />
<line x1="1213" y1="2228.6" x2="1288.2" y2="2228.6" stroke="#111" stroke-width="2" />
<circle cx="1024.2" cy="1860.8" r="8.5" fill="none" stroke="#1a1a1a" stroke-width="1.6"/>
<circle cx="1024.2" cy="1980.5" r="8.5" fill="none" stroke="#1a1a1a" stroke-width="1.6"/>
<circle cx="1024.2" cy="2033.2" r="8.5" fill="none" stroke="#1a1a1a" stroke-width="1.6"/>
<circle cx="1024.2" cy="2091.8" r="8.5" fill="none" stroke="#1a1a1a" stroke-width="1.6"/>
<circle cx="1217" cy="2230" r="8.5" fill="none" stroke="#1a1a1a" stroke-width="1.6"/>
<circle cx="1250.6" cy="2231.6" r="8.5" fill="none" stroke="#1a1a1a" stroke-width="1.6"/>
<circle cx="1284.7" cy="2239.6" r="8.5" fill="none" stroke="#1a1a1a" stroke-width="1.6"/>
<circle cx="1217" cy="2249.6" r="8.5" fill="none" stroke="#1a1a1a" stroke-width="1.6"/>
<rect x="1197" y="2111.3" width="112.5" height="100.39999999999964" fill="#fff" stroke="#e4e4e4" stroke-width="1" />
<path d="M1236.60,2150.00 L1235.60,2161.20 L1239.80,2161.20 L1238.80,2150.00ZM1237.15,2150.95 L1246.35,2157.42 L1248.45,2153.78 L1238.25,2149.05ZM1237.15,2149.05 L1226.95,2153.78 L1229.05,2157.42 L1238.25,2150.95ZM1238.80,2150.00 L1239.80,2138.80 L1235.60,2138.80 L1236.60,2150.00ZM1238.25,2149.05 L1229.05,2142.58 L1226.95,2146.22 L1237.15,2150.95ZM1238.25,2150.95 L1248.45,2146.22 L1246.35,2142.58 L1237.15,2149.05Z" fill="#000" stroke="#000" stroke-width="0.6" stroke-linejoin="round"/>
<path d="M1268.10,2150.00 L1267.10,2161.20 L1271.30,2161.20 L1270.30,2150.00ZM1268.65,2150.95 L1277.85,2157.42 L1279.95,2153.78 L1269.75,2149.05ZM1268.65,2149.05 L1258.45,2153.78 L1260.55,2157.42 L1269.75,2150.95ZM1270.30,2150.00 L1271.30,2138.80 L1267.10,2138.80 L1268.10,2150.00ZM1269.75,2149.05 L1260.55,2142.58 L1258.45,2146.22 L1268.65,2150.95ZM1269.75,2150.95 L1279.95,2146.22 L1277.85,2142.58 L1268.65,2149.05Z" fill="#000" stroke="#000" stroke-width="0.6" stroke-linejoin="round"/>
<text x="1022.6" y="2331.4" font-size="34.6" font-weight="bold" text-anchor="middle" fill="#000" transform="translate(1022.6 2331.4) scale(1 1.0) translate(-1022.6 -2331.4)" >Healthy</text>
<text x="1249.9" y="2331.3" font-size="34.6" font-weight="bold" text-anchor="middle" fill="#000" transform="translate(1249.9 2331.3) scale(1 1.04) translate(-1249.9 -2331.3)" >CDH+</text>
<text x="804.5" y="2014.9" font-size="34.7" font-weight="bold" text-anchor="middle" fill="#000" transform="rotate(-90 804.5 2014.9) translate(804.5 2014.9) scale(1 1.0) translate(-804.5 -2014.9)" >mhc6/mhc7</text>
</svg>
</body></html>
